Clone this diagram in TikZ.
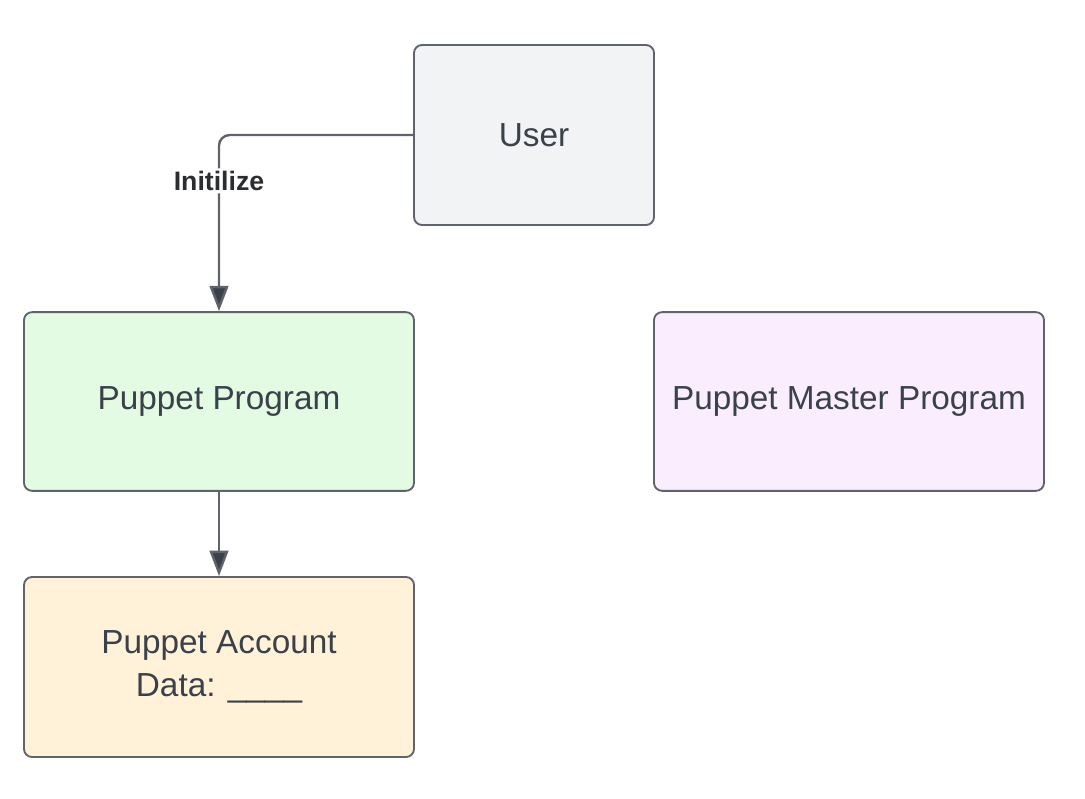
\documentclass[tikz,border=0pt]{standalone}
\usepackage{xcolor}
\usepackage{fontspec}
\setmainfont{Liberation Sans}
\usepackage{tikz}
\usetikzlibrary{arrows.meta}
\definecolor{edge}{HTML}{5F636B}
\definecolor{ink}{HTML}{3A414A}
\definecolor{labelc}{HTML}{2B2D30}
\definecolor{cUser}{HTML}{F2F3F5}
\definecolor{cProg}{HTML}{E3FAE3}
\definecolor{cMaster}{HTML}{FAEEFE}
\definecolor{cData}{HTML}{FFF2D9}

\begin{document}
\begin{tikzpicture}[x=0.75pt,y=-0.75pt,
  box/.style={draw=edge,line width=1.4pt,rounded corners=6pt,text=ink,
    font=\fontsize{25}{32}\selectfont,align=center,inner sep=0pt},
  flow/.style={draw=edge,line width=1.8pt,
    -{Triangle[width=14pt,length=19pt,fill=ink]}},
  tag/.style={fill=white,text=labelc,font=\fontsize{20}{22}\selectfont\bfseries,inner sep=2pt}]
  \useasboundingbox (0,0) rectangle (1085,799);
  % boxes
  \node[box,fill=cUser,minimum width=180pt,minimum height=135pt] (user) at (534,135) {User};
  \node[box,fill=cProg,minimum width=292.5pt,minimum height=134pt] (prog) at (219,401.5) {Puppet Program};
  \node[box,fill=cMaster,minimum width=292.5pt,minimum height=134pt] (master) at (849,401.5) {Puppet Master Program};
  \node[box,fill=cData,minimum width=292.5pt,minimum height=135pt] (data) at (219,667) {Puppet Account\\Data: \_\_\_\_};
  % connectors
  \draw[flow,rounded corners=8pt] (user.west) -| (prog.north)
    node[tag,pos=0.63] (init) {Initilize};
  \draw[flow] (prog.south) -- (data.north);
\end{tikzpicture}
\end{document}
